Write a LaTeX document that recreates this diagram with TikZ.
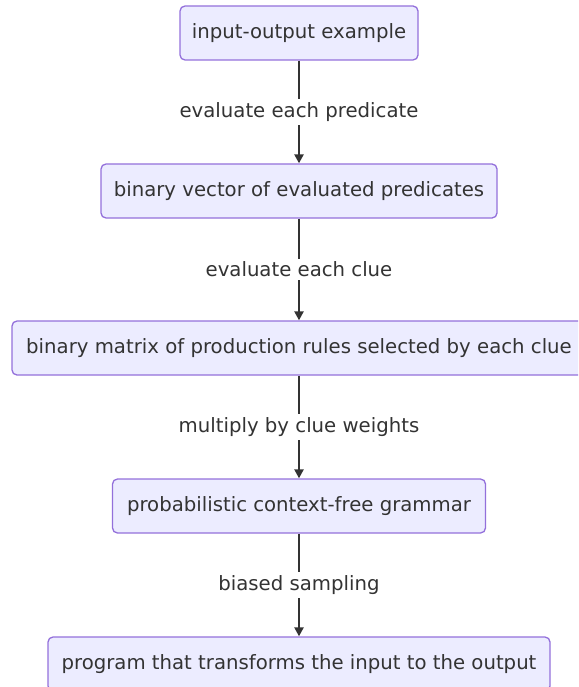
\documentclass[tikz,border=0pt]{standalone}
\usepackage{fontspec}
\setmainfont{DejaVu Sans}
\usetikzlibrary{arrows.meta}
\definecolor{boxfill}{HTML}{ECECFF}
\definecolor{boxline}{HTML}{9370DB}
\definecolor{ink}{HTML}{333333}
\tikzset{
  flowbox/.style={draw=boxline, fill=boxfill, line width=1.3pt, rounded corners=5pt,
    minimum height=54pt, inner sep=0pt, text=ink, font=\fontsize{19.7}{23}\selectfont},
  flowarrow/.style={draw=ink, line width=2.4pt, -{Triangle[length=9pt,width=9pt]}},
  edgelabel/.style={fill=white, text=ink, inner sep=3pt, font=\fontsize{19.7}{23}\selectfont}
}
\begin{document}
\begin{tikzpicture}[x=1pt,y=-1pt]
  \useasboundingbox (0,0) rectangle (578,687);
  \clip (0,0) rectangle (578,687);
  \node[flowbox, minimum width=238pt] (ex) at (299,33) {input-output example};
  \node[flowbox, minimum width=396pt] (vec) at (299,191) {binary vector of evaluated predicates};
  \node[flowbox, minimum width=574pt] (mat) at (299,348) {binary matrix of production rules selected by each clue};
  \node[flowbox, minimum width=373pt] (pcfg) at (299,506) {probabilistic context-free grammar};
  \node[flowbox, minimum width=502pt] (prog) at (299,664) {program that transforms the input to the output};
  \draw[flowarrow] (ex) -- node[edgelabel] {evaluate each predicate} (vec);
  \draw[flowarrow] (vec) -- node[edgelabel] {evaluate each clue} (mat);
  \draw[flowarrow] (mat) -- node[edgelabel] {multiply by clue weights} (pcfg);
  \draw[flowarrow] (pcfg) -- node[edgelabel] {biased sampling} (prog);
\end{tikzpicture}
\end{document}
